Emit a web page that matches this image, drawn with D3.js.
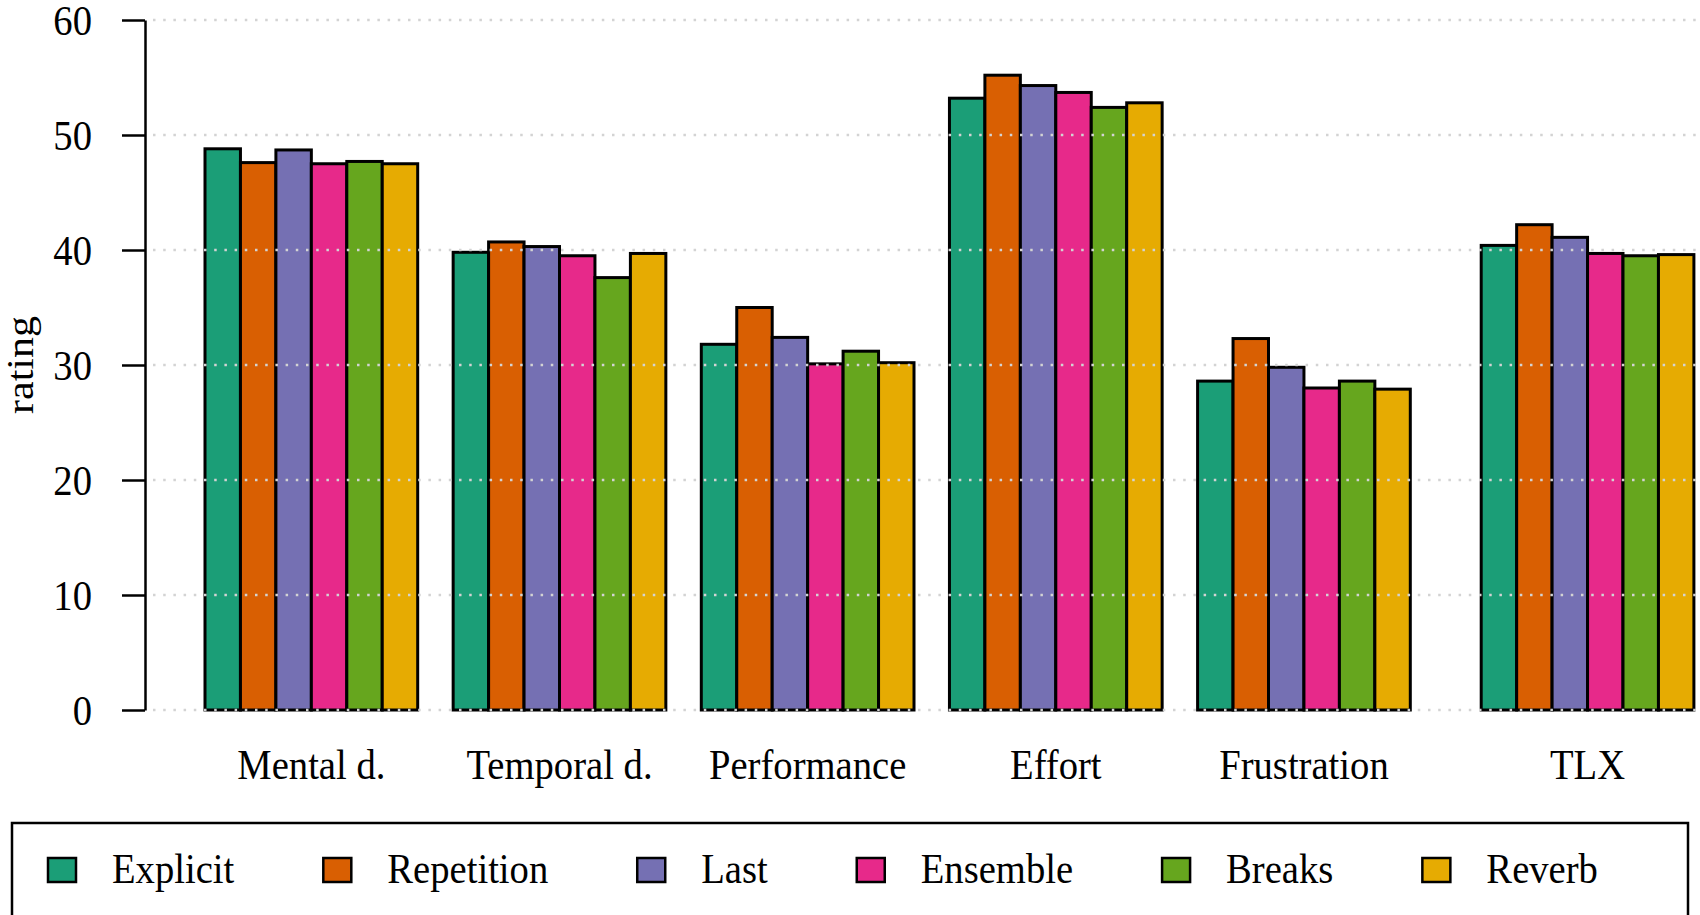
<!DOCTYPE html>
<html>
<head>
<meta charset="utf-8">
<script src="https://cdn.jsdelivr.net/npm/d3@7"></script>
<style>
  body { margin: 0; background: #fff; }
  svg text { font-family: "Liberation Serif", "Times New Roman", serif; fill: #000; }
</style>
</head>
<body>
<div id="chart"></div>
<script>
/**
 * CONSTANTS AND DATA
 * */
const width = 1700,
  height = 915,
  fontSize = 42,
  squeeze = 0.92; // the original text is a bit narrower than it is tall

const categories = ["Mental d.", "Temporal d.", "Performance", "Effort", "Frustration", "TLX"];
const conditions = ["Explicit", "Repetition", "Last", "Ensemble", "Breaks", "Reverb"];
const colors = ["#1B9E77", "#D95F02", "#7570B3", "#E7298A", "#66A61E", "#E6AB02"];

// mean rating per condition, same order as categories
const explicit   = [48.8, 39.8, 31.8, 53.2, 28.6, 40.4];
const repetition = [47.6, 40.7, 35.0, 55.2, 32.3, 42.2];
const last       = [48.7, 40.3, 32.4, 54.3, 29.8, 41.1];
const ensemble   = [47.5, 39.5, 30.1, 53.7, 28.0, 39.7];
const breaks     = [47.7, 37.6, 31.2, 52.4, 28.6, 39.5];
const reverb     = [47.5, 39.7, 30.2, 52.8, 27.9, 39.6];
const series = [explicit, repetition, last, ensemble, breaks, reverb];

const yTicks = [0, 10, 20, 30, 40, 50, 60];

// flatten into one row per bar
const rows = [];
categories.forEach((cat, i) => {
  conditions.forEach((cond, j) => {
    rows.push({ cat, i, cond, j, value: series[j][i] });
  });
});

/**
 * SCALES
 * */
// bar slots like R barplot: one empty slot between groups, two before TLX
const slot = d => 1 + d.i * 7 + (d.i === categories.length - 1 ? 1 : 0) + d.j;

const xScale = d3.scaleLinear()
  .domain([1, 43])
  .range([205, 205 + 42 * 35.45]);

const yScale = d3.scaleLinear()
  .domain([0, 60])
  .range([710, 20]);

const svg = d3.select("#chart")
  .append("svg")
  .attr("width", width)
  .attr("height", height);

// place a text at (x,y) squeezed horizontally
const put = (sel, x, y, extra = "") =>
  sel.attr("transform", `translate(${x},${y}) scale(${squeeze},1)${extra}`);

// BARS
svg.append("g")
  .selectAll("rect")
  .data(rows)
  .join("rect")
  .attr("x", d => xScale(slot(d)))
  .attr("width", d => xScale(slot(d) + 1) - xScale(slot(d)))
  .attr("y", d => yScale(d.value))
  .attr("height", d => yScale(0) - yScale(d.value))
  .attr("fill", d => colors[d.j])
  .attr("stroke", "#000")
  .attr("stroke-width", 3);

// GRID (drawn over the bars)
svg.append("g")
  .selectAll("line")
  .data(yTicks)
  .join("line")
  .attr("x1", 147)
  .attr("x2", width)
  .attr("y1", d => yScale(d))
  .attr("y2", d => yScale(d))
  .attr("stroke", "#d3d3d3")
  .attr("stroke-width", 2.5)
  .attr("stroke-dasharray", "2.5 7.7")
  .attr("stroke-dashoffset", -6);

// Y AXIS
const yAxis = d3.axisLeft(yScale)
  .tickValues(yTicks)
  .tickSize(23)
  .tickSizeOuter(0)
  .tickPadding(30);

const yg = svg.append("g")
  .attr("transform", "translate(145,0)")
  .call(yAxis);
yg.select(".domain").attr("stroke", "#000").attr("stroke-width", 2.5);
yg.selectAll(".tick line").attr("stroke", "#000").attr("stroke-width", 2.5);
yg.selectAll(".tick text")
  .attr("font-size", fontSize)
  .attr("dy", "0.34em")
  .each(function () {
    const t = d3.select(this);
    put(t, -53, 0);
    t.attr("x", 0);
  });

put(svg.append("text"), 33, yScale(30), " rotate(-90)")
  .attr("text-anchor", "middle")
  .attr("font-size", fontSize)
  .text("rating");

// CATEGORY LABELS
svg.append("g")
  .selectAll("text")
  .data(categories)
  .join("text")
  .attr("transform", (d, i) =>
    `translate(${xScale(slot({ i, j: 3 }))},779) scale(${squeeze},1)`)
  .attr("text-anchor", "middle")
  .attr("font-size", fontSize)
  .text(d => d);

// LEGEND
svg.append("rect")
  .attr("x", 12)
  .attr("y", 823)
  .attr("width", 1676)
  .attr("height", 120)
  .attr("fill", "none")
  .attr("stroke", "#000")
  .attr("stroke-width", 2.5);

const legend = svg.append("g");
let lx = 48;
conditions.forEach((cond, j) => {
  legend.append("rect")
    .attr("x", lx)
    .attr("y", 858)
    .attr("width", 28)
    .attr("height", 24)
    .attr("fill", colors[j])
    .attr("stroke", "#000")
    .attr("stroke-width", 2.5);
  const t = put(legend.append("text"), lx + 64, 883)
    .attr("font-size", fontSize)
    .text(cond);
  lx += 64 + t.node().getComputedTextLength() * squeeze + 89;
});
</script>
</body>
</html>
